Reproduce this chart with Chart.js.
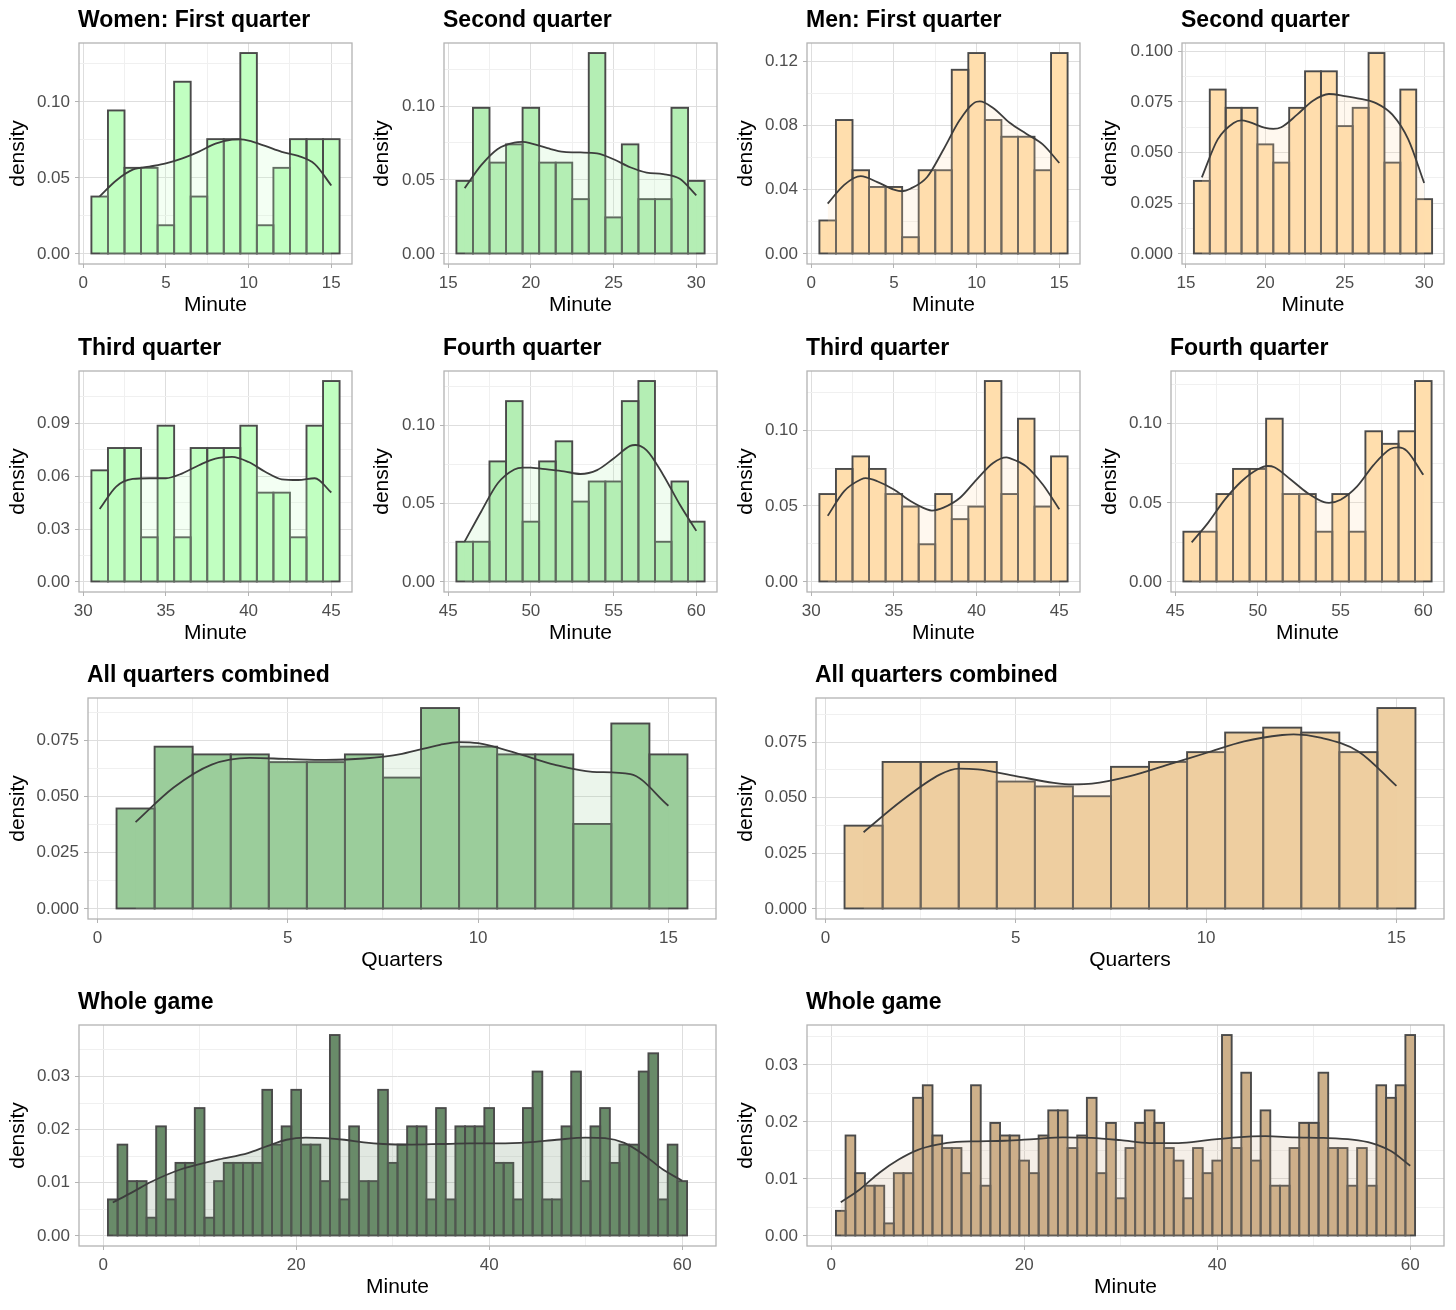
<!DOCTYPE html>
<html lang="en">
<head>
  <meta charset="UTF-8">
  <title>Scoring minute histograms</title>
  <script src="https://cdn.jsdelivr.net/npm/chart.js"></script>
  <style>
    body {
      margin: 0;
      background: #fff;
    }
    #board {
      position: relative;
      width: 1456px;
      height: 1310px;
    }
    #board canvas {
      position: absolute;
    }
  </style>
</head>
<body>

  <div id="board"></div>

  <script>
    // histogram bins (minute centres, width 1)
    const binsQ1 = [1, 2, 3, 4, 5, 6, 7, 8, 9, 10, 11, 12, 13, 14, 15];
    const binsQ2 = [16, 17, 18, 19, 20, 21, 22, 23, 24, 25, 26, 27, 28, 29, 30];
    const binsQ3 = [31, 32, 33, 34, 35, 36, 37, 38, 39, 40, 41, 42, 43, 44, 45];
    const binsQ4 = [46, 47, 48, 49, 50, 51, 52, 53, 54, 55, 56, 57, 58, 59, 60];
    const binsGame = binsQ1.concat(binsQ2, binsQ3, binsQ4);

    // counts per bin
    const countsWomenQ1 = [2, 5, 3, 3, 1, 6, 2, 4, 4, 7, 1, 3, 4, 4, 4];
    const countsWomenQ2 = [4, 8, 5, 6, 8, 5, 5, 3, 11, 2, 6, 3, 3, 8, 4];
    const countsWomenQ3 = [5, 6, 6, 2, 7, 2, 6, 6, 6, 7, 4, 4, 2, 7, 9];
    const countsWomenQ4 = [2, 2, 6, 9, 3, 6, 7, 4, 5, 5, 9, 10, 2, 5, 3];
    const countsWomenAll = [13, 21, 20, 20, 19, 19, 20, 17, 26, 21, 20, 20, 11, 24, 20];
    const countsWomenGame = countsWomenQ1.concat(countsWomenQ2, countsWomenQ3, countsWomenQ4);

    const countsMenQ1 = [2, 8, 5, 4, 4, 1, 5, 5, 11, 12, 8, 7, 7, 5, 12];
    const countsMenQ2 = [4, 9, 8, 8, 6, 5, 8, 10, 10, 7, 8, 11, 5, 9, 3];
    const countsMenQ3 = [7, 9, 10, 9, 7, 6, 3, 7, 5, 6, 16, 7, 13, 6, 10];
    const countsMenQ4 = [4, 4, 7, 9, 9, 13, 7, 7, 4, 7, 4, 12, 11, 12, 16];
    const countsMenAll = [17, 30, 30, 30, 26, 25, 23, 29, 30, 32, 36, 37, 36, 32, 41];
    const countsMenGame = countsMenQ1.concat(countsMenQ2, countsMenQ3, countsMenQ4);

    // density curves [minute, density]
    const densWomenQ1 = [[1, 0.0379], [2, 0.0483], [3, 0.0554], [4, 0.0574], [5, 0.0595], [6, 0.0628], [7, 0.0673], [8, 0.0725], [9, 0.0751], [9.5, 0.0753], [10, 0.0745], [11, 0.0710], [12, 0.0671], [13, 0.0645], [14, 0.0591], [15, 0.0450]];
    const densWomenQ2 = [[16, 0.0445], [17, 0.0600], [18, 0.0710], [19, 0.0753], [19.5, 0.0757], [20, 0.0748], [21, 0.0715], [22, 0.0690], [23, 0.0686], [24, 0.0680], [25, 0.0640], [26, 0.0586], [27, 0.0550], [28, 0.0540], [29, 0.0508], [30, 0.0396]];
    const densWomenQ3 = [[31, 0.0414], [32, 0.0541], [33, 0.0584], [34, 0.0588], [35, 0.0588], [36, 0.0616], [37, 0.0662], [38, 0.0700], [39, 0.0709], [40, 0.0680], [41, 0.0625], [42, 0.0582], [43, 0.0578], [44, 0.0588], [45, 0.0507]];
    const densWomenQ4 = [[46, 0.0258], [47, 0.0450], [48, 0.0630], [49, 0.0718], [49.5, 0.0730], [50, 0.0729], [51, 0.0718], [52, 0.0706], [53, 0.0689], [54, 0.0714], [55, 0.0788], [56, 0.0868], [56.3, 0.0874], [57, 0.0840], [58, 0.0683], [59, 0.0494], [60, 0.0326]];
    const densWomenAll = [[1, 0.0386], [2, 0.0540], [3, 0.0642], [4, 0.0672], [5, 0.0667], [6, 0.0663], [7, 0.0669], [8, 0.0690], [9, 0.0730], [9.5, 0.0742], [10, 0.0737], [11, 0.0693], [12, 0.0642], [13, 0.0610], [14, 0.0600], [15, 0.0459]];
    const densWomenGame = [[1, 0.0063], [3, 0.0082], [5, 0.0102], [8, 0.0125], [10, 0.0135], [12, 0.0144], [15, 0.0156], [17, 0.0169], [19, 0.0181], [21, 0.0185], [23, 0.0184], [25, 0.0181], [27, 0.0176], [29, 0.0173], [32, 0.0172], [35, 0.0173], [38, 0.0174], [41, 0.0174], [44, 0.0176], [47, 0.0181], [50, 0.0185], [52, 0.0184], [54, 0.0175], [56, 0.0153], [58, 0.0125], [60, 0.0104]];

    const densMenQ1 = [[1, 0.0313], [2, 0.0430], [3, 0.0484], [4, 0.0447], [5, 0.0400], [5.5, 0.0390], [6, 0.0406], [7, 0.0477], [8, 0.0650], [9, 0.0836], [10, 0.0947], [10.2, 0.0949], [11, 0.0908], [12, 0.0816], [13, 0.0748], [14, 0.0682], [15, 0.0566]];
    const densMenQ2 = [[16, 0.0378], [17, 0.0565], [18, 0.0646], [18.5, 0.0659], [19, 0.0650], [20, 0.0622], [20.5, 0.0617], [21, 0.0625], [22, 0.0687], [23, 0.0756], [24, 0.0789], [25, 0.0779], [26, 0.0765], [27, 0.0743], [28, 0.0687], [29, 0.0565], [30, 0.0350]];
    const densMenQ3 = [[31, 0.0435], [32, 0.0598], [33, 0.0674], [33.3, 0.0683], [34, 0.0663], [35, 0.0609], [36, 0.0533], [37, 0.0478], [37.3, 0.0470], [38, 0.0489], [39, 0.0554], [40, 0.0674], [41, 0.0783], [41.8, 0.0820], [42, 0.0815], [43, 0.0761], [44, 0.0641], [45, 0.0478]];
    const densMenQ4 = [[46, 0.0250], [47, 0.0375], [48, 0.0520], [49, 0.0635], [50, 0.0712], [50.6, 0.0733], [51, 0.0725], [52, 0.0646], [53, 0.0562], [54, 0.0504], [54.3, 0.0500], [55, 0.0520], [56, 0.0604], [57, 0.0740], [58, 0.0840], [58.5, 0.0850], [59, 0.0829], [60, 0.0677]];
    const densMenAll = [[1, 0.0345], [2, 0.0486], [3, 0.0604], [3.5, 0.0631], [4, 0.0627], [5, 0.0597], [6, 0.0567], [6.5, 0.0560], [7, 0.0563], [8, 0.0597], [9, 0.0649], [10, 0.0701], [11, 0.0753], [12, 0.0782], [12.3, 0.0785], [13, 0.0770], [14, 0.0708], [15, 0.0553]];
    const densMenGame = [[1, 0.0059], [3, 0.0082], [5, 0.0111], [7, 0.0134], [9, 0.0151], [11, 0.0160], [13, 0.0165], [15, 0.0166], [18, 0.0167], [21, 0.0170], [24, 0.0173], [27, 0.0172], [30, 0.0168], [33, 0.0163], [36, 0.0163], [39, 0.0168], [42, 0.0173], [45, 0.0175], [48, 0.0173], [51, 0.0172], [54, 0.0169], [56, 0.0163], [58, 0.0149], [60, 0.0123]];

    // tick labels
    const xTicksQ1 = ['0', '5', '10', '15'];
    const xTicksQ2 = ['15', '20', '25', '30'];
    const xTicksQ3 = ['30', '35', '40', '45'];
    const xTicksQ4 = ['45', '50', '55', '60'];
    const xTicksGame = ['0', '20', '40', '60'];
    const yTicks005 = ['0.00', '0.05', '0.10'];
    const yTicks004 = ['0.00', '0.04', '0.08', '0.12'];
    const yTicks003 = ['0.00', '0.03', '0.06', '0.09'];
    const yTicks0025 = ['0.000', '0.025', '0.050', '0.075', '0.100'];
    const yTicksAll = ['0.000', '0.025', '0.050', '0.075'];
    const yTicksGame = ['0.00', '0.01', '0.02', '0.03'];

    Chart.defaults.font.family = '"Liberation Sans", Arial, Helvetica, sans-serif';
    Chart.defaults.animation = false;

    const panels = [
      { title: 'Women: First quarter', bins: binsQ1, counts: countsWomenQ1, dens: densWomenQ1, color: '#C1FFC1', xTicks: xTicksQ1, yTicks: yTicks005, xTitle: 'Minute', x: 0, y: 0, w: 364, left: 79, right: 352 },
      { title: 'Second quarter', bins: binsQ2, counts: countsWomenQ2, dens: densWomenQ2, color: '#B4EEB4', xTicks: xTicksQ2, yTicks: yTicks005, xTitle: 'Minute', x: 364, y: 0, w: 364, left: 80, right: 353 },
      { title: 'Men: First quarter', bins: binsQ1, counts: countsMenQ1, dens: densMenQ1, color: '#FFDEAD', xTicks: xTicksQ1, yTicks: yTicks004, xTitle: 'Minute', x: 728, y: 0, w: 364, left: 79, right: 352 },
      { title: 'Second quarter', bins: binsQ2, counts: countsMenQ2, dens: densMenQ2, color: '#FFDEAD', xTicks: xTicksQ2, yTicks: yTicks0025, xTitle: 'Minute', x: 1092, y: 0, w: 364, left: 90, right: 352 },

      { title: 'Third quarter', bins: binsQ3, counts: countsWomenQ3, dens: densWomenQ3, color: '#C1FFC1', xTicks: xTicksQ3, yTicks: yTicks003, xTitle: 'Minute', x: 0, y: 328, w: 364, left: 79, right: 352 },
      { title: 'Fourth quarter', bins: binsQ4, counts: countsWomenQ4, dens: densWomenQ4, color: '#B4EEB4', xTicks: xTicksQ4, yTicks: yTicks005, xTitle: 'Minute', x: 364, y: 328, w: 364, left: 80, right: 353 },
      { title: 'Third quarter', bins: binsQ3, counts: countsMenQ3, dens: densMenQ3, color: '#FFDEAD', xTicks: xTicksQ3, yTicks: yTicks005, xTitle: 'Minute', x: 728, y: 328, w: 364, left: 79, right: 352 },
      { title: 'Fourth quarter', bins: binsQ4, counts: countsMenQ4, dens: densMenQ4, color: '#FFDEAD', xTicks: xTicksQ4, yTicks: yTicks005, xTitle: 'Minute', x: 1092, y: 328, w: 364, left: 79, right: 352 },

      { title: 'All quarters combined', bins: binsQ1, counts: countsWomenAll, dens: densWomenAll, color: '#9BCD9B', xTicks: xTicksQ1, yTicks: yTicksAll, xTitle: 'Quarters', x: 0, y: 655, w: 728, left: 88, right: 716 },
      { title: 'All quarters combined', bins: binsQ1, counts: countsMenAll, dens: densMenAll, color: '#EECFA1', xTicks: xTicksQ1, yTicks: yTicksAll, xTitle: 'Quarters', x: 728, y: 655, w: 728, left: 88, right: 716 },

      { title: 'Whole game', bins: binsGame, counts: countsWomenGame, dens: densWomenGame, color: '#698B69', xTicks: xTicksGame, yTicks: yTicksGame, xTitle: 'Minute', x: 0, y: 982, w: 728, left: 79, right: 716 },
      { title: 'Whole game', bins: binsGame, counts: countsMenGame, dens: densMenGame, color: '#CDB08A', xTicks: xTicksGame, yTicks: yTicksGame, xTitle: 'Minute', x: 728, y: 982, w: 728, left: 79, right: 716 }
    ];

    const H = 327, TOP = 43, PLOT_H = 221;

    function withAlpha(hex, a) {
      const n = parseInt(hex.slice(1), 16);
      return `rgba(${n >> 16}, ${(n >> 8) & 255}, ${n & 255}, ${a})`;
    }

    // major ticks from labels, minor ticks halfway between (like ggplot)
    function buildTicks(labels, lo, hi) {
      const vals = labels.map(parseFloat);
      const step = vals[1] - vals[0];
      const list = labels.map((l, i) => ({ v: vals[i], label: l, major: true }));
      for (let k = -1; k < vals.length; k++) {
        const v = vals[0] + (k + 0.5) * step;
        if (v >= lo && v <= hi) list.push({ v, label: '', major: false });
      }
      return list.filter(t => t.v >= lo && t.v <= hi).sort((a, b) => a.v - b.v);
    }

    const panelDecor = {
      id: 'panelDecor',
      afterDatasetDraw(chart, args) {
        if (args.meta.type !== 'bar') return;
        const ctx = chart.ctx;
        ctx.save();
        ctx.strokeStyle = '#4a4a4a';
        ctx.lineWidth = 1.9;
        args.meta.data.forEach(bar => {
          const p = bar.getProps(['x', 'y', 'base', 'width'], true);
          ctx.strokeRect(p.x - p.width / 2, p.y, p.width, p.base - p.y);
        });
        ctx.restore();
      },
      afterDraw(chart, args, opts) {
        const { ctx, chartArea: a } = chart;
        ctx.save();
        ctx.strokeStyle = '#b3b3b3';
        ctx.lineWidth = 1.3;
        ctx.strokeRect(a.left, a.top, a.right - a.left, a.bottom - a.top);
        ctx.fillStyle = '#000';
        ctx.font = 'bold 23px "Liberation Sans", Arial, sans-serif';
        ctx.textBaseline = 'alphabetic';
        ctx.fillText(opts.text, a.left - 1, 27);
        ctx.restore();
      }
    };

    function axisStyle(ticks) {
      return {
        grid: {
          offset: false,
          color: c => (ticks[c.index] && ticks[c.index].major) ? '#dedede' : '#f0f0f0',
          tickColor: c => (ticks[c.index] && ticks[c.index].major) ? '#b3b3b3' : 'rgba(0,0,0,0)',
          tickLength: 4,
          lineWidth: 1
        },
        border: { display: false },
        ticks: {
          autoSkip: false,
          maxRotation: 0,
          padding: 5,
          color: '#4d4d4d',
          font: { size: 17 },
          callback: (v, i) => ticks[i] ? ticks[i].label : ''
        }
      };
    }

    function drawPanel(p) {
      const canvas = document.createElement('canvas');
      canvas.width = p.w;
      canvas.height = H;
      canvas.style.left = p.x + 'px';
      canvas.style.top = p.y + 'px';
      document.getElementById('board').appendChild(canvas);

      const total = p.counts.reduce((a, b) => a + b, 0);
      const bars = p.bins.map((b, i) => ({ x: b, y: p.counts[i] / total }));
      const curve = p.dens.map(d => ({ x: d[0], y: d[1] }));
      const top = Math.max(...bars.map(d => d.y), ...curve.map(d => d.y));
      const lo = p.bins[0] - 0.5, hi = p.bins[p.bins.length - 1] + 0.5;
      const xPad = (hi - lo) * 0.05;
      const xMin = lo - xPad, xMax = hi + xPad;
      const yMin = -0.05 * top, yMax = 1.05 * top;
      const xt = buildTicks(p.xTicks, xMin, xMax);
      const yt = buildTicks(p.yTicks, yMin, yMax);

      const xs = axisStyle(xt), ys = axisStyle(yt);

      new Chart(canvas, {
        type: 'bar',
        data: {
          datasets: [
            {
              type: 'line',
              data: curve,
              borderColor: '#3d3d3d',
              borderWidth: 1.8,
              backgroundColor: withAlpha(p.color, 0.2),
              fill: 'origin',
              pointRadius: 0,
              cubicInterpolationMode: 'monotone',
              order: 0
            },
            {
              type: 'bar',
              data: bars,
              backgroundColor: p.color,
              borderWidth: 0,
              barPercentage: 1,
              categoryPercentage: 1,
              order: 1
            }
          ]
        },
        options: {
          responsive: false,
          layout: { padding: { top: TOP, right: p.w - p.right, left: 0, bottom: 0 } },
          plugins: {
            legend: { display: false },
            tooltip: { enabled: false },
            panelDecor: { text: p.title }
          },
          scales: {
            x: {
              type: 'linear',
              min: xMin,
              max: xMax,
              offset: false,
              afterBuildTicks: s => { s.ticks = xt.map(t => ({ value: t.v })); },
              afterFit: s => { s.height = H - TOP - PLOT_H; },
              grid: xs.grid,
              border: xs.border,
              ticks: xs.ticks,
              title: { display: true, text: p.xTitle, color: '#000', font: { size: 21 }, padding: { top: 0, bottom: 9 } }
            },
            y: {
              type: 'linear',
              min: yMin,
              max: yMax,
              afterBuildTicks: s => { s.ticks = yt.map(t => ({ value: t.v })); },
              afterFit: s => { s.width = p.left; },
              grid: ys.grid,
              border: ys.border,
              ticks: ys.ticks,
              title: { display: true, text: 'density', color: '#000', font: { size: 21 }, padding: { top: 6, bottom: 0 } }
            }
          }
        },
        plugins: [panelDecor]
      });
    }

    panels.forEach(drawPanel);
  </script>

</body>
</html>
